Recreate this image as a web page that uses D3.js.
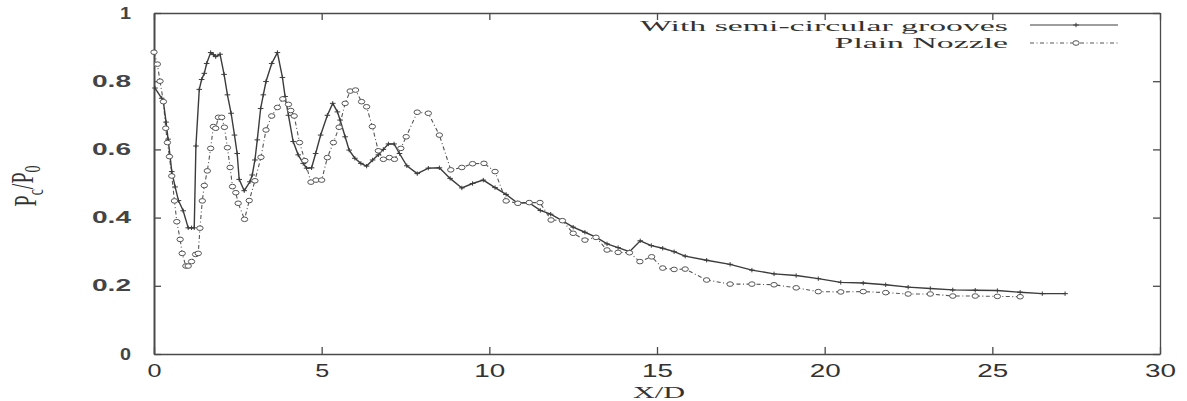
<!DOCTYPE html>
<html>
<head>
<meta charset="utf-8">
<script src="https://cdn.jsdelivr.net/npm/d3@7"></script>
<style>
  body {
    margin: 0;
    background: #fff;
  }
  svg {
    display: block;
    font-family: "Liberation Serif", "Times New Roman", serif;
  }
</style>
</head>
<body>
<svg id="chart" width="1187" height="401"></svg>
<script>
// values
const groovesX = [0.03, 0.23, 0.28, 0.36, 0.42, 0.48, 0.53, 0.63, 0.73, 0.87, 1.02, 1.12, 1.2, 1.25, 1.35, 1.42, 1.5, 1.57, 1.69, 1.77, 1.84, 1.97, 2.09, 2.19, 2.3, 2.4, 2.48, 2.54, 2.69, 2.86, 2.93, 3.01, 3.08, 3.18, 3.26, 3.34, 3.51, 3.68, 3.83, 3.91, 4.01, 4.15, 4.3, 4.45, 4.55, 4.7, 4.82, 4.97, 5.17, 5.33, 5.47, 5.55, 5.7, 5.82, 5.99, 6.17, 6.34, 6.52, 6.69, 6.84, 6.99, 7.16, 7.32, 7.54, 7.85, 8.18, 8.51, 8.83, 9.18, 9.5, 9.82, 10.17, 10.5, 10.84, 11.18, 11.52, 11.83, 12.17, 12.5, 12.85, 13.18, 13.51, 13.84, 14.18, 14.5, 14.83, 15.17, 15.51, 15.84, 16.48, 17.18, 17.83, 18.49, 19.15, 19.81, 20.48, 21.15, 21.82, 22.49, 23.15, 23.82, 24.49, 25.15, 25.83, 26.49, 27.17];
const groovesY = [0.78, 0.75, 0.74, 0.68, 0.63, 0.58, 0.535, 0.49, 0.45, 0.42, 0.37, 0.37, 0.37, 0.61, 0.776, 0.805, 0.823, 0.852, 0.884, 0.878, 0.872, 0.879, 0.82, 0.76, 0.706, 0.642, 0.588, 0.512, 0.479, 0.505, 0.525, 0.569, 0.628, 0.72, 0.76, 0.799, 0.852, 0.884, 0.811, 0.755, 0.70, 0.623, 0.584, 0.559, 0.545, 0.546, 0.588, 0.642, 0.70, 0.735, 0.71, 0.686, 0.637, 0.598, 0.574, 0.559, 0.551, 0.569, 0.584, 0.60, 0.616, 0.616, 0.588, 0.552, 0.529, 0.545, 0.546, 0.515, 0.487, 0.50, 0.51, 0.488, 0.468, 0.443, 0.444, 0.421, 0.41, 0.391, 0.372, 0.357, 0.343, 0.323, 0.312, 0.30, 0.332, 0.318, 0.31, 0.30, 0.287, 0.275, 0.263, 0.246, 0.235, 0.23, 0.221, 0.21, 0.208, 0.203, 0.196, 0.192, 0.188, 0.187, 0.186, 0.181, 0.177, 0.177];

const plainX = [0.0, 0.1, 0.18, 0.28, 0.35, 0.4, 0.46, 0.53, 0.61, 0.68, 0.78, 0.84, 0.95, 1.02, 1.12, 1.24, 1.32, 1.37, 1.44, 1.5, 1.59, 1.69, 1.77, 1.84, 1.92, 2.02, 2.1, 2.19, 2.27, 2.34, 2.44, 2.51, 2.7, 2.84, 3.01, 3.19, 3.34, 3.51, 3.68, 3.84, 4.01, 4.08, 4.18, 4.34, 4.5, 4.68, 4.83, 5.0, 5.17, 5.35, 5.52, 5.7, 5.85, 6.01, 6.19, 6.34, 6.51, 6.69, 6.84, 7.02, 7.17, 7.36, 7.52, 7.85, 8.18, 8.51, 8.85, 9.18, 9.5, 9.84, 10.17, 10.5, 10.85, 11.19, 11.51, 11.84, 12.18, 12.5, 12.85, 13.18, 13.51, 13.84, 14.18, 14.49, 14.84, 15.17, 15.51, 15.84, 16.48, 17.18, 17.83, 18.49, 19.15, 19.81, 20.48, 21.15, 21.82, 22.49, 23.15, 23.82, 24.49, 25.15, 25.83];
const plainY = [0.885, 0.85, 0.80, 0.74, 0.662, 0.62, 0.579, 0.522, 0.449, 0.388, 0.336, 0.295, 0.258, 0.258, 0.271, 0.292, 0.295, 0.369, 0.449, 0.494, 0.537, 0.603, 0.667, 0.662, 0.694, 0.694, 0.665, 0.605, 0.547, 0.491, 0.473, 0.442, 0.395, 0.45, 0.508, 0.577, 0.657, 0.698, 0.723, 0.748, 0.732, 0.714, 0.698, 0.62, 0.567, 0.504, 0.51, 0.51, 0.576, 0.62, 0.665, 0.735, 0.771, 0.774, 0.74, 0.725, 0.667, 0.596, 0.571, 0.576, 0.571, 0.603, 0.637, 0.709, 0.706, 0.642, 0.54, 0.547, 0.558, 0.559, 0.535, 0.449, 0.442, 0.444, 0.444, 0.393, 0.391, 0.354, 0.334, 0.342, 0.305, 0.298, 0.297, 0.271, 0.285, 0.252, 0.248, 0.249, 0.217, 0.205, 0.205, 0.203, 0.194, 0.183, 0.182, 0.183, 0.18, 0.176, 0.176, 0.17, 0.17, 0.169, 0.168];

const xTicks = [0, 5, 10, 15, 20, 25, 30];
const yTicks = [0, 0.2, 0.4, 0.6, 0.8, 1];
const yTickLabels = ['0', '0.2', '0.4', '0.6', '0.8', '1'];
const seriesNames = ['With semi-circular grooves', 'Plain Nozzle'];

const frame = {left: 154, right: 1160, top: 13, bottom: 354};
const ink = '#4a4a4a';
// the scan is stretched sideways, so legend text is widened to match
const stretch = 2.25;

const svg = d3.select('#chart');

const x = d3.scaleLinear().domain([0, 30]).range([frame.left, frame.right]);
const y = d3.scaleLinear().domain([0, 1]).range([frame.bottom, frame.top]);

const grooves = d3.zip(groovesX, groovesY);
const plain = d3.zip(plainX, plainY);

// axes: ticks point inward on all four sides
const gx = svg.append('g')
  .attr('transform', `translate(0,${frame.bottom})`)
  .call(d3.axisBottom(x).tickValues(xTicks).tickSizeInner(-7).tickSizeOuter(0).tickPadding(10))
  ;
gx.selectAll('text')
  .attr('font-size', 18)
  .attr('fill', '#333')
  .attr('lengthAdjust', 'spacingAndGlyphs')
  .attr('textLength', d => String(d).length === 1 ? 14 : 31)
  ;

const gy = svg.append('g')
  .attr('transform', `translate(${frame.left},0)`)
  .call(d3.axisLeft(y).tickValues(yTicks).tickFormat((d, i) => yTickLabels[i])
    .tickSizeInner(-7).tickSizeOuter(0).tickPadding(23))
  ;
gy.selectAll('text')
  .attr('font-size', 16)
  .attr('font-weight', 'bold')
  .attr('fill', '#444')
  .attr('lengthAdjust', 'spacingAndGlyphs')
  .attr('textLength', (d, i) => yTickLabels[i].length === 1 ? 11 : 39)
  ;

svg.append('g')
  .attr('transform', `translate(0,${frame.top})`)
  .call(d3.axisTop(x).tickValues(xTicks).tickFormat('').tickSizeInner(-7).tickSizeOuter(0))
  ;
svg.append('g')
  .attr('transform', `translate(${frame.right},0)`)
  .call(d3.axisRight(y).tickValues(yTicks).tickFormat('').tickSizeInner(-7).tickSizeOuter(0))
  ;

svg.selectAll('.domain, .tick line')
  .attr('stroke', ink)
  .attr('stroke-width', 1.3)
  ;
gy.select('.domain').attr('stroke-width', 2);

// axis titles
svg.append('text')
  .attr('x', (frame.left + frame.right) / 2 + 2)
  .attr('y', 398)
  .attr('text-anchor', 'middle')
  .attr('font-size', 17)
  .attr('fill', '#333')
  .attr('lengthAdjust', 'spacingAndGlyphs')
  .attr('textLength', 52)
  .text('X/D')
  ;

const ylab = svg.append('text')
  .attr('transform', 'translate(36,186) scale(1.6,1) rotate(-90)')
  .attr('text-anchor', 'middle')
  .attr('font-size', 20)
  .attr('fill', '#333')
  ;
ylab.append('tspan').text('P');
ylab.append('tspan').attr('font-size', 14).attr('dy', '0.3em').text('c');
ylab.append('tspan').attr('dy', '-0.3em').text('/P');
ylab.append('tspan').attr('font-size', 14).attr('dy', '0.3em').text('0');

// curves
const line = d3.line().x(d => x(d[0])).y(d => y(d[1]));

svg.append('path')
  .datum(plain)
  .attr('fill', 'none')
  .attr('stroke', '#555')
  .attr('stroke-width', 1.1)
  .attr('stroke-dasharray', '4,2.5,1,2.5')
  .attr('d', line)
  ;
svg.append('path')
  .datum(grooves)
  .attr('fill', 'none')
  .attr('stroke', '#3c3c3c')
  .attr('stroke-width', 1.4)
  .attr('d', line)
  ;

const plus = 'M-2.8,0H2.8M0,-2.2V2.2';

svg.append('g')
  .selectAll('path')
  .data(grooves)
  .join('path')
    .attr('transform', d => `translate(${x(d[0])},${y(d[1])})`)
    .attr('d', plus)
    .attr('stroke', '#3c3c3c')
    .attr('stroke-width', 1)
  ;
svg.append('g')
  .selectAll('ellipse')
  .data(plain)
  .join('ellipse')
    .attr('cx', d => x(d[0]))
    .attr('cy', d => y(d[1]))
    .attr('rx', 3.2)
    .attr('ry', 2.3)
    .attr('fill', '#fff')
    .attr('stroke', '#555')
    .attr('stroke-width', 1)
  ;

// legend, text right-aligned at x = 1008
const legend = svg.append('g');
const rows = [
  {name: seriesNames[0], base: 31, ly: 25, solid: true},
  {name: seriesNames[1], base: 48, ly: 43, solid: false},
];
legend.selectAll('text')
  .data(rows)
  .join('text')
    .attr('y', d => d.base)
    .attr('font-size', 15)
    .attr('fill', '#333')
    .text(d => d.name)
    .each(function () {
      const len = this.getComputedTextLength() * stretch;
      d3.select(this)
        .attr('x', 1008 - len)
        .attr('lengthAdjust', 'spacingAndGlyphs')
        .attr('textLength', len);
    })
  ;
legend.selectAll('line')
  .data(rows)
  .join('line')
    .attr('x1', 1030)
    .attr('x2', 1118)
    .attr('y1', d => d.ly)
    .attr('y2', d => d.ly)
    .attr('stroke', d => d.solid ? '#3c3c3c' : '#555')
    .attr('stroke-width', 1)
    .attr('stroke-dasharray', d => d.solid ? null : '4,2.5,1,2.5')
  ;
legend.append('path')
  .attr('transform', `translate(1076,${rows[0].ly})`)
  .attr('d', plus)
  .attr('stroke', '#3c3c3c')
  ;
legend.append('ellipse')
  .attr('cx', 1076)
  .attr('cy', rows[1].ly)
  .attr('rx', 3.2)
  .attr('ry', 2.3)
  .attr('fill', '#fff')
  .attr('stroke', '#555')
  ;
</script>
</body>
</html>
